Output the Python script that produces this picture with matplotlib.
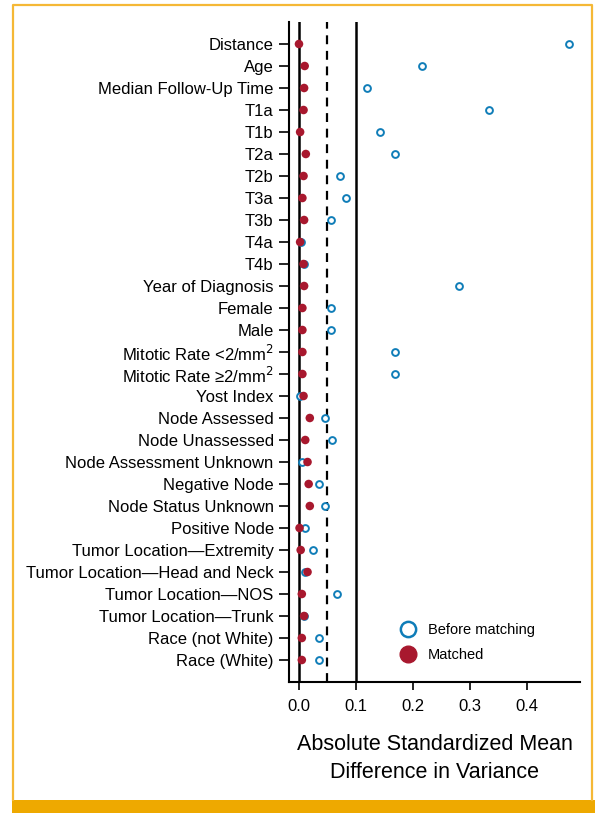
import matplotlib
matplotlib.use("Agg")
import matplotlib.pyplot as plt
from matplotlib.lines import Line2D
from matplotlib.patches import Rectangle

categories = [
    "Distance", "Age", "Median Follow-Up Time", "T1a", "T1b", "T2a", "T2b",
    "T3a", "T3b", "T4a", "T4b", "Year of Diagnosis", "Female", "Male",
    "Mitotic Rate <2/mm$^2$", "Mitotic Rate \u22652/mm$^2$", "Yost Index",
    "Node Assessed", "Node Unassessed", "Node Assessment Unknown",
    "Negative Node", "Node Status Unknown", "Positive Node",
    "Tumor Location\u2014Extremity", "Tumor Location\u2014Head and Neck",
    "Tumor Location\u2014NOS", "Tumor Location\u2014Trunk",
    "Race (not White)", "Race (White)",
]
before_matching = [
    0.474, 0.216, 0.120, 0.334, 0.143, 0.169, 0.072, 0.083, 0.056, 0.003,
    0.008, 0.281, 0.057, 0.057, 0.168, 0.168, 0.001, 0.046, 0.058, 0.005,
    0.036, 0.046, 0.011, 0.025, 0.011, 0.067, 0.009, 0.036, 0.036,
]
matched = [
    0.000, 0.010, 0.009, 0.008, 0.002, 0.012, 0.008, 0.006, 0.009, 0.002,
    0.008, 0.009, 0.006, 0.006, 0.006, 0.006, 0.008, 0.019, 0.011, 0.015,
    0.017, 0.019, 0.001, 0.003, 0.015, 0.005, 0.009, 0.005, 0.005,
]
xticks = [0.0, 0.1, 0.2, 0.3, 0.4]
ref_solid = [0.0, 0.1]
ref_dashed = [0.05]

BLUE = "#0F7DB8"
RED = "#A8182E"
GOLD = "#EEA900"
GOLD_LINE = "#F5B836"

plt.rcParams["font.family"] = ["Liberation Sans", "DejaVu Sans"]

fig = plt.figure(figsize=(5.95, 8.13), dpi=100)
ax = fig.add_axes([289 / 595, 1 - 682 / 813, (580 - 289) / 595, (682 - 22) / 813])

ypos = list(range(len(categories)))
for v in ref_solid:
    ax.axvline(v, color="black", lw=1.8, zorder=1)
for v in ref_dashed:
    ax.axvline(v, color="black", lw=1.6, ls=(0, (4, 3)), zorder=1)

ax.scatter(before_matching, ypos, s=24, facecolors="white", edgecolors=BLUE,
           linewidths=1.4, zorder=3)
ax.scatter(matched, ypos, s=38, color=RED, edgecolors="none", zorder=4)

ax.set_ylim(len(categories), -1)
ax.set_xlim(-0.0175, 0.493)
ax.set_yticks(ypos)
ax.set_yticklabels(categories, fontsize=12)
ax.set_xticks(xticks)
ax.set_xticklabels([f"{t:.1f}" for t in xticks], fontsize=12)
ax.tick_params(axis="y", length=7, width=1.2, pad=4)
ax.tick_params(axis="x", length=6, width=1.2, pad=6)
for side in ["top", "right"]:
    ax.spines[side].set_visible(False)
for side in ["left", "bottom"]:
    ax.spines[side].set_linewidth(1.5)

ax.set_xlabel("Absolute Standardized Mean\nDifference in Variance",
              fontsize=15.5, labelpad=15, linespacing=1.4)

handles = [
    Line2D([], [], marker="o", ls="none", markersize=11, markerfacecolor="white",
           markeredgecolor=BLUE, markeredgewidth=1.8, label="Before matching"),
    Line2D([], [], marker="o", ls="none", markersize=12, markerfacecolor=RED,
           markeredgecolor=RED, label="Matched"),
]
ax.legend(handles=handles, loc="lower right", bbox_to_anchor=(0.89, 0.01),
          frameon=False, fontsize=10.5, handletextpad=0.35, labelspacing=0.8)

# decorative frame
fig.add_artist(Line2D([12.5 / 595, 12.5 / 595, 592 / 595, 592 / 595],
                      [1 - 800 / 813, 1 - 5.5 / 813, 1 - 5.5 / 813, 1 - 800 / 813],
                      transform=fig.transFigure, color=GOLD_LINE, lw=1.6))
fig.add_artist(Rectangle((12 / 595, 0), 1 - 12 / 595, 13 / 813,
                         transform=fig.transFigure, color=GOLD, lw=0))

fig.savefig("out.png", dpi=100)
